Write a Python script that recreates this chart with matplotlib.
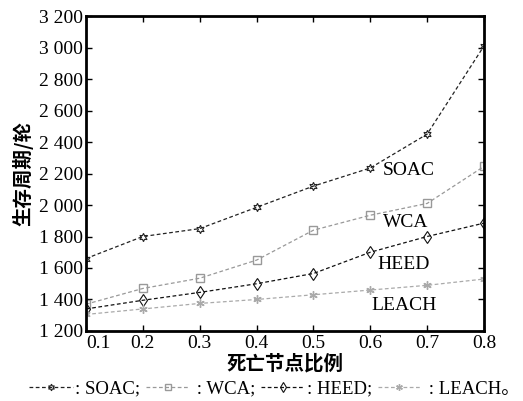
import matplotlib
matplotlib.use("Agg")
import matplotlib.pyplot as plt
from matplotlib.ticker import FuncFormatter

plt.rcParams['font.family'] = ['Liberation Serif', 'Noto Sans CJK SC']

# dead node ratio
ratios = [0.1, 0.2, 0.3, 0.4, 0.5, 0.6, 0.7, 0.8]
soac = [1660, 1800, 1850, 1985, 2120, 2235, 2450, 3010]
wca = [1370, 1470, 1535, 1650, 1840, 1935, 2010, 2245]
heed = [1340, 1395, 1445, 1500, 1565, 1700, 1800, 1885]
leach = [1305, 1340, 1375, 1400, 1430, 1460, 1490, 1530]
series_names = ["SOAC", "WCA", "HEED", "LEACH"]
legend_labels = [": SOAC;", " : WCA;", ": HEED;", " : LEACH\u3002"]
yticks = list(range(1200, 3201, 200))

fig = plt.figure(figsize=(5.23, 4.01), dpi=100)
ax = fig.add_axes([0.1644, 0.1746, 0.7610, 0.7854])

styles = [
    dict(color='#222222', marker=(6, 1, 0), fillstyle='none', ms=6, mew=0.8),
    dict(color='#999999', marker='s', fillstyle='none', ms=6, mew=1.0),
    dict(color='#111111', marker='d', fillstyle='none', ms=6, mew=0.8),
    dict(color='#aaaaaa', marker=(6, 2, 0), ms=6, mew=1.0),
]
lines = []
for vals, st, lab in zip([soac, wca, heed, leach], styles, legend_labels):
    ln, = ax.plot(ratios, vals, linestyle=(0, (3, 2)), lw=0.9, label=lab, **st)
    lines.append(ln)

ax.set_xlim(0.1, 0.8)
ax.set_ylim(1200, 3200)
ax.set_xticks(ratios)
ax.set_yticks(yticks)
ax.yaxis.set_major_formatter(FuncFormatter(lambda v, p: f"{int(v):,}".replace(",", " ")))
ax.xaxis.set_major_formatter(FuncFormatter(lambda v, p: f"{v:.1f}"))
ax.tick_params(direction='in', top=True, right=True, labelsize=14, length=4, width=1)
ax.tick_params(axis='x', pad=3)
ax.tick_params(axis='y', pad=2)
for lab in ax.get_xticklabels():
    if lab.get_text() == "0.1":
        lab.set_horizontalalignment('left')
for sp in ax.spines.values():
    sp.set_linewidth(2)

# series names inside the plot
for name, (x, y) in zip(series_names, [(0.668, 2222), (0.662, 1892), (0.658, 1625), (0.66, 1365)]):
    ax.text(x, y, name, fontsize=14, ha='center', va='center')

ax.set_xlabel("死亡节点比例", fontsize=14, fontweight='bold',
              family=['Noto Sans CJK SC'], labelpad=1)
ax.set_ylabel("生存周期/轮", fontsize=14, fontweight='bold',
              family=['Noto Sans CJK SC'], labelpad=4)

fig.legend(handles=lines, loc='center', bbox_to_anchor=(0.525, 0.03), ncol=4,
           frameon=False, handlelength=2.3, handletextpad=0.15, markerscale=0.8,
           columnspacing=0.3, borderpad=0,
           prop={'family': ['Liberation Serif', 'Noto Sans CJK SC'], 'size': 13.5})

fig.savefig("out.png", dpi=100)
